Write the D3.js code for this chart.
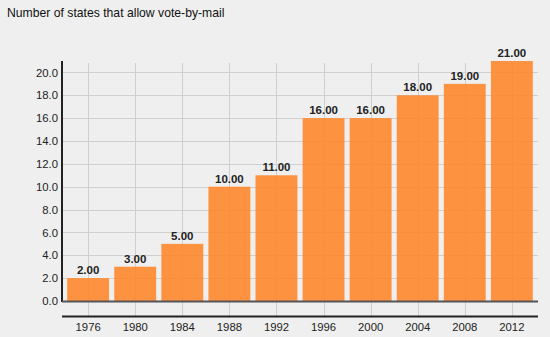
<!DOCTYPE html>
<html><head><meta charset="utf-8">
<script src="https://cdn.jsdelivr.net/npm/d3@7"></script>
<style>
html,body{margin:0;padding:0;background:#efefef;}
svg{display:block;font-family:"Liberation Sans",Arial,Helvetica,sans-serif;}
</style></head>
<body><svg id="chart" width="550" height="337"></svg>
<script>
const title = "Number of states that allow vote-by-mail";
const years = ["1976","1980","1984","1988","1992","1996","2000","2004","2008","2012"];
const states = [2, 3, 5, 10, 11, 16, 16, 18, 19, 21];
const yTicks = [0, 2, 4, 6, 8, 10, 12, 14, 16, 18, 20];

const svg = d3.select("#chart");
svg.append("rect").attr("width",550).attr("height",337).attr("fill","#efefef");

const L = 62, R = 538, T = 61, B = 301, AX = 316.5;
const x = d3.scaleBand().domain(years).range([L, R]).paddingInner(0.11).paddingOuter(0.11);
const y = d3.scaleLinear().domain([0, 21]).range([B, T]);

svg.append("text").attr("x",7).attr("y",17).attr("font-size",12.2).attr("fill","#111").text(title);

// grid
const g = svg.append("g");
g.selectAll("line.h").data(yTicks).join("line")
  .attr("x1",L).attr("x2",R).attr("y1",d=>Math.round(y(d))+0.5).attr("y2",d=>Math.round(y(d))+0.5)
  .attr("stroke","#cfcfcf").attr("stroke-width",1);
g.selectAll("line.v").data(years).join("line")
  .attr("x1",d=>Math.round(x(d)+x.bandwidth()/2)+0.5).attr("x2",d=>Math.round(x(d)+x.bandwidth()/2)+0.5)
  .attr("y1",T+2).attr("y2",AX).attr("stroke","#cfcfcf").attr("stroke-width",1);

// bars
svg.selectAll("rect.bar").data(states).join("rect").attr("class","bar")
  .attr("x",(d,i)=>x(years[i])).attr("width",x.bandwidth())
  .attr("y",d=>y(d)).attr("height",d=>B-y(d))
  .attr("fill","#ff8529").attr("fill-opacity",0.88);

svg.selectAll("text.val").data(states).join("text")
  .attr("x",(d,i)=>x(years[i])+x.bandwidth()/2).attr("y",d=>y(d)-4)
  .attr("text-anchor","middle").attr("font-size",11.5).attr("font-weight","bold").attr("fill","#222")
  .text(d=>d.toFixed(2));

// y axis
const yAxis = d3.axisLeft(y).tickValues(yTicks).tickSize(0).tickPadding(4).tickFormat(d3.format(".1f"));
const ya = svg.append("g").attr("transform",`translate(${L},0)`).call(yAxis);
ya.select(".domain").remove();
ya.selectAll("text").attr("font-size",11.3).attr("fill","#222").attr("font-family","Liberation Sans, Arial, sans-serif");
svg.append("line").attr("x1",L).attr("x2",L).attr("y1",T).attr("y2",B+1).attr("stroke","#222").attr("stroke-width",2);
svg.append("line").attr("x1",L).attr("x2",R).attr("y1",B+0.5).attr("y2",B+0.5).attr("stroke","#555").attr("stroke-width",2);

// x axis
const xAxis = d3.axisBottom(x).tickSize(0).tickPadding(6);
const xa = svg.append("g").attr("transform",`translate(0,${AX})`).call(xAxis);
xa.select(".domain").remove();
xa.selectAll("text").attr("font-size",11.3).attr("fill","#222").attr("font-family","Liberation Sans, Arial, sans-serif");
svg.append("line").attr("x1",L).attr("x2",R).attr("y1",AX).attr("y2",AX).attr("stroke","#222").attr("stroke-width",2);
</script></body></html>
